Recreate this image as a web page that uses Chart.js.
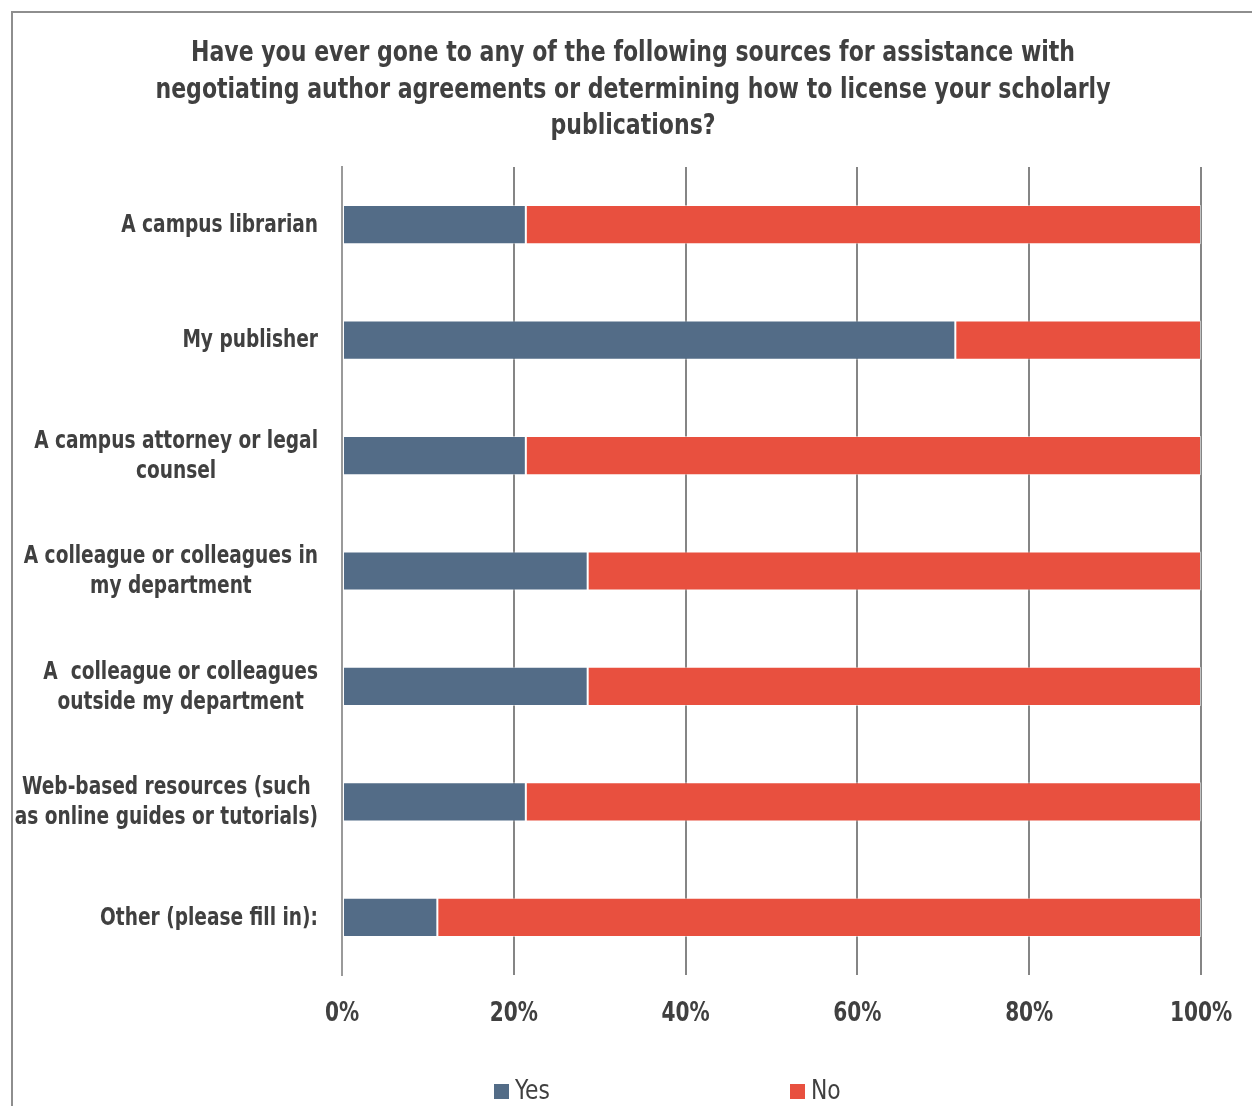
<!DOCTYPE html>
<html>
<head>
<meta charset="utf-8">
<script src="https://cdn.jsdelivr.net/npm/chart.js@4.4.0/dist/chart.umd.min.js"></script>
<style>
  html, body { margin: 0; padding: 0; background: #fff; overflow: hidden; }
  #wrap { position: relative; width: 1252px; height: 1106px; overflow: hidden; }
  #frame { position: absolute; left: 11px; top: 11px; width: 1300px; height: 1200px; border-left: 2px solid #8e8e8e; border-top: 2px solid #8e8e8e; pointer-events: none; }
</style>
</head>
<body>
<div id="wrap">
  <canvas id="sourcesChart" width="1252" height="1106"></canvas>
  <div id="frame"></div>
</div>
<script>
var FONT = '"DejaVu Sans Condensed", "Liberation Sans Narrow", sans-serif';
var NARROW = 0.86; // squeeze to look like Arial Narrow

var titleLines = [
  'Have you ever gone to any of the following sources for assistance with',
  'negotiating author agreements or determining how to license your scholarly',
  'publications?'
];
var categories = [
  ['A campus librarian'],
  ['My publisher'],
  ['A campus attorney or legal', 'counsel'],
  ['A colleague or colleagues in', 'my department'],
  ['A  colleague or colleagues', 'outside my department'],
  ['Web-based resources (such', 'as online guides or tutorials)'],
  ['Other (please fill in):']
];
var yesValues = [21.4, 71.4, 21.4, 28.6, 28.6, 21.4, 11.1];
var noValues = [78.6, 28.6, 78.6, 71.4, 71.4, 78.6, 88.9];
var xTicks = [0, 20, 40, 60, 80, 100];
var xTickLabels = ['0%', '20%', '40%', '60%', '80%', '100%'];
var seriesNames = ['Yes', 'No'];
var seriesColors = ['#536c87', '#e8503f'];

function narrowText(ctx, text, x, y, align, sx) {
  ctx.save();
  ctx.translate(x, y);
  ctx.scale(sx, 1);
  ctx.textAlign = align;
  ctx.fillText(text, 0, 0);
  ctx.restore();
}

var textPlugin = {
  id: 'narrowTexts',
  afterDraw: function(chart) {
    var ctx = chart.ctx;
    var area = chart.chartArea;
    ctx.save();
    ctx.fillStyle = '#404040';
    ctx.textBaseline = 'middle';

    // title
    ctx.font = 'bold 28px ' + FONT;
    titleLines.forEach(function(line, i) {
      narrowText(ctx, line, 633, 54 + i * 36.5, 'center', 0.875);
    });

    // category labels: block right aligned, lines centered in block
    ctx.font = 'bold 24px ' + FONT;
    var yScale = chart.scales.y;
    var right = area.left - 24;
    categories.forEach(function(lines, i) {
      var y = yScale.getPixelForTick(i) + 1;
      var w = 0;
      lines.forEach(function(l) { w = Math.max(w, ctx.measureText(l).width * NARROW); });
      var lh = 30;
      var y0 = y - (lines.length - 1) * lh / 2;
      lines.forEach(function(l, k) { narrowText(ctx, l, right - w / 2, y0 + k * lh, 'center', NARROW); });
    });

    // x tick labels
    ctx.font = 'bold 26px ' + FONT;
    var xScale = chart.scales.x;
    xTicks.forEach(function(v, i) {
      narrowText(ctx, xTickLabels[i], xScale.getPixelForValue(v), area.bottom + 39, 'center', NARROW);
    });

    // legend
    ctx.font = '27px ' + FONT;
    var xs = [494, 790];
    var ly = 1092;
    seriesNames.forEach(function(name, i) {
      ctx.fillStyle = seriesColors[i];
      ctx.fillRect(xs[i], ly - 8, 15, 15);
      ctx.fillStyle = '#404040';
      narrowText(ctx, name, xs[i] + 21, ly, 'left', 0.9);
    });
    ctx.restore();
  }
};

var ctx = document.getElementById('sourcesChart').getContext('2d');
var sourcesChart = new Chart(ctx, {
  type: 'bar',
  data: {
    labels: categories.map(function(c) { return c.join(' '); }),
    datasets: [{
      label: seriesNames[0],
      data: yesValues,
      backgroundColor: seriesColors[0],
      borderColor: 'rgba(255,255,255,0.5)',
      borderWidth: 1,
      borderSkipped: false,
      barPercentage: 0.34,
      categoryPercentage: 1
    }, {
      label: seriesNames[1],
      data: noValues,
      backgroundColor: seriesColors[1],
      borderColor: 'rgba(255,255,255,0.5)',
      borderWidth: 1,
      borderSkipped: false,
      barPercentage: 0.34,
      categoryPercentage: 1
    }]
  },
  options: {
    indexAxis: 'y',
    responsive: false,
    animation: false,
    layout: { padding: { left: 0, right: 51, top: 167, bottom: 71 } },
    plugins: {
      legend: { display: false },
      tooltip: { enabled: false },
      title: { display: false }
    },
    scales: {
      x: {
        stacked: true,
        min: 0,
        max: 100,
        afterBuildTicks: function(axis) {
          axis.ticks = xTicks.map(function(v) { return { value: v }; });
        },
        afterFit: function(axis) { axis.height = 60; },
        ticks: { display: false },
        grid: { color: '#858585', lineWidth: 2, drawTicks: false },
        border: { display: false }
      },
      y: {
        stacked: true,
        afterFit: function(axis) { axis.width = 342; },
        ticks: { display: false },
        grid: { display: false, drawTicks: false },
        border: { display: true, color: '#9a9a9a', width: 2 }
      }
    }
  },
  plugins: [textPlugin]
});
</script>
</body>
</html>
